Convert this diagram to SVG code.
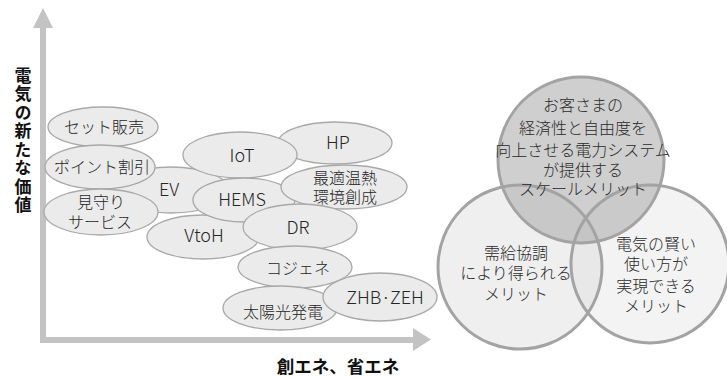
<svg xmlns="http://www.w3.org/2000/svg" width="727" height="379" viewBox="0 0 727 379">
<style>
.el{fill:#ebebeb;stroke:#a8a8a8;stroke-width:1.3}
.t{font-family:"Noto Sans CJK JP","Noto Sans",sans-serif;font-size:16px;fill:#262626;text-anchor:middle;font-weight:300}
.lt{font-size:18px}
.vt{font-family:"Noto Sans CJK JP","Noto Sans",sans-serif;font-size:16px;fill:#2a2a2a;text-anchor:middle;font-weight:300}
.ax{font-family:"Noto Sans CJK JP",sans-serif;font-size:17px;font-weight:bold;fill:#111;text-anchor:middle}
.axis{fill:#c3c3c3}
.vc{stroke:#a3a3a3;stroke-width:3;fill:none}
</style>
<rect width="727" height="379" fill="#ffffff"/>
<g id="axes">
  <rect class="axis" x="40" y="27" width="6" height="316"/>
  <polygon class="axis" points="33,28 53,28 43,8"/>
  <rect class="axis" x="40" y="337" width="374" height="6"/>
  <polygon class="axis" points="413,328 413,351 431,339.5"/>
</g>
<g id="y-label">
  <text x="23" y="67" style="writing-mode:vertical-rl;font-family:'Noto Sans CJK JP',sans-serif;font-size:17px;font-weight:bold;fill:#111;letter-spacing:1.5px">電気の新たな価値</text>
</g>
<g id="x-label">
  <text class="ax" x="338" y="373" style="font-size:17.5px">創エネ、省エネ</text>
</g>
<g id="n-ev"><ellipse class="el" cx="171" cy="190" rx="58" ry="23"/><text class="t lt" x="169" y="196">EV</text></g>
<g id="n-set"><ellipse class="el" cx="103" cy="127" rx="55" ry="20"/><text class="t" x="104" y="133">セット販売</text></g>
<g id="n-point"><ellipse class="el" cx="100" cy="167" rx="55" ry="22"/><text class="t" x="102" y="173">ポイント割引</text></g>
<g id="n-mimamori"><ellipse class="el" cx="101" cy="212" rx="57" ry="23"/><text class="t"><tspan x="101" y="208">見守り</tspan><tspan x="100" y="228">サービス</tspan></text></g>
<g id="n-vtoh"><ellipse class="el" cx="203" cy="237" rx="56" ry="22"/><text class="t lt" x="204" y="242">VtoH</text></g>
<g id="n-hp"><ellipse class="el" cx="335" cy="143" rx="57" ry="21"/><text class="t lt" x="338" y="149">HP</text></g>
<g id="n-iot"><ellipse class="el" cx="240" cy="155" rx="57" ry="23"/><text class="t lt" x="242" y="162">IoT</text></g>
<g id="n-hems"><ellipse class="el" cx="244" cy="200" rx="51" ry="22"/><text class="t lt" x="242" y="206">HEMS</text></g>
<g id="n-onnetsu"><ellipse class="el" cx="344" cy="187" rx="63" ry="22"/><text class="t"><tspan x="345" y="184">最適温熱</tspan><tspan x="345" y="203">環境創成</tspan></text></g>
<g id="n-dr"><ellipse class="el" cx="300" cy="227" rx="57" ry="23"/><text class="t lt" x="298" y="234">DR</text></g>
<g id="n-cogene"><ellipse class="el" cx="295" cy="267" rx="57" ry="21"/><text class="t" x="298" y="274">コジェネ</text></g>
<g id="n-solar"><ellipse class="el" cx="280" cy="308" rx="57" ry="22"/><text class="t" x="283" y="318">太陽光発電</text></g>
<g id="n-zeh"><ellipse class="el" cx="380" cy="297" rx="57" ry="24"/><text class="t lt" x="385" y="304">ZHB·ZEH</text></g>
<g id="venn">
  <circle id="c-left" cx="520" cy="267" r="82" fill="#efefef"/>
  <circle id="c-right" cx="650" cy="264" r="79" fill="#d8d8d8" fill-opacity="0.3"/>
  <circle id="c-top" cx="581" cy="160" r="83" fill="#a8a8a8" fill-opacity="0.55"/>
  <circle class="vc" cx="520" cy="267" r="82"/>
  <circle class="vc" cx="650" cy="264" r="79"/>
  <circle class="vc" cx="581" cy="160" r="83"/>
</g>
<g id="t-top">
  <text class="vt"><tspan x="583" y="111">お客さまの</tspan><tspan x="583" y="134">経済性と自由度を</tspan><tspan x="583" y="156">向上させる電力システム</tspan><tspan x="583" y="176">が提供する</tspan><tspan x="583" y="195">スケールメリット</tspan></text>
</g>
<g id="t-left">
  <text class="vt"><tspan x="516" y="259">需給協調</tspan><tspan x="516" y="279">により得られる</tspan><tspan x="516" y="300">メリット</tspan></text>
</g>
<g id="t-right">
  <text class="vt"><tspan x="656" y="250">電気の賢い</tspan><tspan x="656" y="270">使い方が</tspan><tspan x="656" y="292">実現できる</tspan><tspan x="656" y="312">メリット</tspan></text>
</g>
</svg>
